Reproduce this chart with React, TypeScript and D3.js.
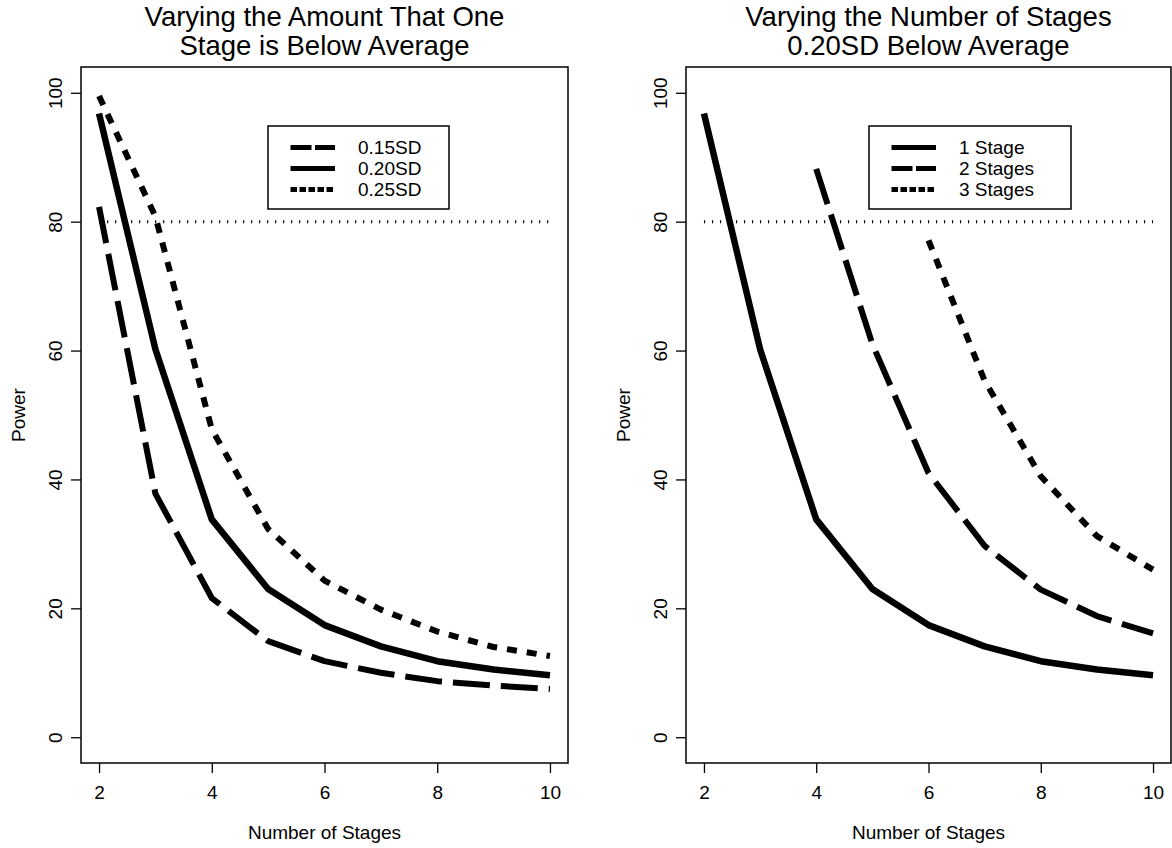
import React, { useEffect, useRef } from 'react';
import * as d3 from 'd3';

// power (%)
const stages = [2, 3, 4, 5, 6, 7, 8, 9, 10];
const power015 = [82.3, 37.8, 21.6, 14.9, 11.8, 10.0, 8.7, 8.0, 7.5];
const power020 = [96.8, 60.2, 33.8, 23.0, 17.4, 14.1, 11.8, 10.5, 9.6];
const power025 = [99.5, 80.8, 47.8, 32.3, 24.3, 19.8, 16.4, 14.0, 12.6];

const twoStageX = [4, 5, 6, 7, 8, 9, 10];
const twoStagePower = [88.2, 61.0, 41.0, 29.7, 22.9, 18.8, 16.1];
const threeStageX = [6, 7, 8, 9, 10];
const threeStagePower = [77.1, 55.3, 40.5, 31.2, 26.0];

const xTicks = [2, 4, 6, 8, 10];
const yTicks = [0, 20, 40, 60, 80, 100];
const targetPower = 80;

const leftTitle = ['Varying the Amount That One', 'Stage is Below Average'];
const rightTitle = ['Varying the Number of Stages', '0.20SD Below Average'];

const FONT = '"Liberation Sans", Arial, Helvetica, sans-serif';

const DASH = { solid: null, dashed: '37 11', dotted: '10 10' };
const LEGEND_DASH = { solid: null, dashed: '21 3.5', dotted: '6.5 2.5' };

type Series = { label: string; xs: number[]; ys: number[]; style: 'solid' | 'dashed' | 'dotted' };

const zip = (xs: number[], ys: number[]) => xs.map((x, i) => [x, ys[i]] as [number, number]);

export default function App() {
  const svgRef = useRef<SVGSVGElement>(null);

  useEffect(() => {
    const svg = d3.select(svgRef.current);
    svg.selectAll('*').remove();

    const top = 67;
    const bottom = 763;

    const panels = [
      {
        left: 81,
        right: 568,
        title: leftTitle,
        legend: { x: 268, y: 126, w: 181, h: 83 },
        series: [
          { label: '0.15SD', xs: stages, ys: power015, style: 'dashed' },
          { label: '0.20SD', xs: stages, ys: power020, style: 'solid' },
          { label: '0.25SD', xs: stages, ys: power025, style: 'dotted' },
        ] as Series[],
      },
      {
        left: 686,
        right: 1171,
        title: rightTitle,
        legend: { x: 869, y: 126, w: 202, h: 83 },
        series: [
          { label: '1 Stage', xs: stages, ys: power020, style: 'solid' },
          { label: '2 Stages', xs: twoStageX, ys: twoStagePower, style: 'dashed' },
          { label: '3 Stages', xs: threeStageX, ys: threeStagePower, style: 'dotted' },
        ] as Series[],
      },
    ];

    const y = d3.scaleLinear().domain([-4, 104]).range([bottom, top]);

    panels.forEach((p) => {
      const pad = (p.right - p.left) * 0.04 / 1.08;
      const x = d3.scaleLinear().domain([2, 10]).range([p.left + pad, p.right - pad]);
      const g = svg.append('g');

      // 80% reference
      g.append('line')
        .attr('x1', x(2))
        .attr('x2', x(10))
        .attr('y1', y(targetPower))
        .attr('y2', y(targetPower))
        .attr('stroke', '#000')
        .attr('stroke-width', 3)
        .attr('stroke-dasharray', '1.2 6.8');

      const line = d3.line<[number, number]>()
        .x((d) => x(d[0]))
        .y((d) => y(d[1]));

      p.series.forEach((s) => {
        g.append('path')
          .attr('d', line(zip(s.xs, s.ys)))
          .attr('fill', 'none')
          .attr('stroke', '#000')
          .attr('stroke-width', s.style === 'solid' ? 6.5 : 6)
          .attr('stroke-linejoin', 'round')
          .attr('stroke-dasharray', DASH[s.style]);
      });

      // box
      g.append('rect')
        .attr('x', p.left)
        .attr('y', top)
        .attr('width', p.right - p.left)
        .attr('height', bottom - top)
        .attr('fill', 'none')
        .attr('stroke', '#000')
        .attr('stroke-width', 1.5);

      // x axis
      const xAxis = g.append('g')
        .attr('transform', `translate(0,${bottom})`)
        .call(d3.axisBottom(x).tickValues(xTicks).tickSize(10).tickPadding(13));
      xAxis.select('.domain').remove();
      xAxis.selectAll('line').attr('stroke', '#000').attr('stroke-width', 1.3);
      xAxis.selectAll('text')
        .attr('fill', '#000')
        .attr('font-family', FONT)
        .attr('font-size', 19);

      // y axis
      const yAxis = g.append('g')
        .attr('transform', `translate(${p.left},0)`)
        .call(d3.axisLeft(y).tickValues(yTicks).tickSize(10));
      yAxis.select('.domain').remove();
      yAxis.selectAll('line').attr('stroke', '#000').attr('stroke-width', 1.3);
      yAxis.selectAll('text')
        .attr('x', null)
        .attr('dy', null)
        .attr('transform', 'translate(-26,0) rotate(-90)')
        .attr('text-anchor', 'middle')
        .attr('dominant-baseline', 'central')
        .attr('fill', '#000')
        .attr('font-family', FONT)
        .attr('font-size', 19);

      // axis titles
      g.append('text')
        .attr('x', (p.left + p.right) / 2)
        .attr('y', 832)
        .attr('text-anchor', 'middle')
        .attr('dominant-baseline', 'central')
        .attr('font-family', FONT)
        .attr('font-size', 19)
        .text('Number of Stages');

      g.append('text')
        .attr('transform', `translate(${p.left - 63},${(top + bottom) / 2}) rotate(-90)`)
        .attr('text-anchor', 'middle')
        .attr('dominant-baseline', 'central')
        .attr('font-family', FONT)
        .attr('font-size', 19)
        .text('Power');

      // title, two lines
      p.title.forEach((t, i) => {
        g.append('text')
          .attr('x', (p.left + p.right) / 2)
          .attr('y', 26 + i * 29)
          .attr('text-anchor', 'middle')
          .attr('font-family', FONT)
          .attr('font-size', 27.5)
          .text(t);
      });

      // legend
      const L = p.legend;
      g.append('rect')
        .attr('x', L.x)
        .attr('y', L.y)
        .attr('width', L.w)
        .attr('height', L.h)
        .attr('fill', '#fff')
        .attr('stroke', '#000')
        .attr('stroke-width', 1.5);
      p.series.forEach((s, i) => {
        const ry = L.y + 21.5 + i * 21;
        g.append('line')
          .attr('x1', L.x + 22.5)
          .attr('x2', L.x + 67)
          .attr('y1', ry)
          .attr('y2', ry)
          .attr('stroke', '#000')
          .attr('stroke-width', 5)
          .attr('stroke-dasharray', LEGEND_DASH[s.style]);
        g.append('text')
          .attr('x', L.x + 90)
          .attr('y', ry)
          .attr('dominant-baseline', 'central')
          .attr('font-family', FONT)
          .attr('font-size', 19)
          .text(s.label);
      });
    });
  }, []);

  return (
    <svg
      ref={svgRef}
      width={1172}
      height={848}
      style={{ position: 'absolute', left: 0, top: 0, background: '#fff' }}
    />
  );
}
